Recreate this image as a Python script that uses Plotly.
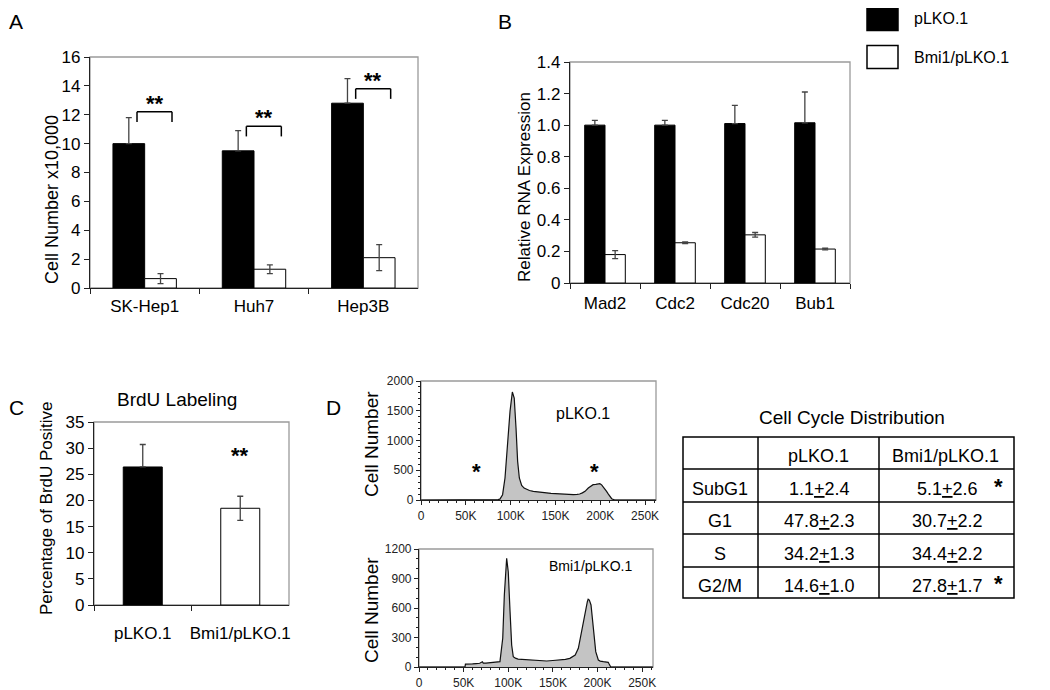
import plotly.graph_objects as go

# The page body adds an 8px margin, so the figure is sized to fill the rest of the window
OFF = 8
W, H = 1050 - OFF, 690 - OFF
def X(px): return (px - OFF) / W
def Y(py): return 1 - (py - OFF) / H

FONT = "Arial, 'Liberation Sans', sans-serif"

# ---------------- Panel A data ----------------
a_cats = ["SK-Hep1", "Huh7", "Hep3B"]
a_plko = [10.0, 9.5, 12.8]
a_plko_err = [1.8, 1.4, 1.7]
a_bmi = [0.65, 1.3, 2.1]
a_bmi_err = [0.35, 0.3, 0.9]
a_bracket_top = [12.2, 11.2, 13.8]
a_bracket_leg = [11.5, 10.5, 13.1]

# ---------------- Panel B data ----------------
b_cats = ["Mad2", "Cdc2", "Cdc20", "Bub1"]
b_plko = [1.0, 1.0, 1.01, 1.015]
b_plko_err = [0.03, 0.03, 0.115, 0.195]
b_bmi = [0.18, 0.255, 0.305, 0.215]
b_bmi_err = [0.025, 0.005, 0.015, 0.005]
b_ticks = [0, 0.2, 0.4, 0.6, 0.8, 1.0, 1.2, 1.4]
b_ticktext = ["0", "0.2", "0.4", "0.6", "0.8", "1.0", "1.2", "1.4"]

# ---------------- Panel C data ----------------
c_cats = ["pLKO.1", "Bmi1/pLKO.1"]
c_vals = [26.4, 18.5]
c_err_plus = [4.3, 2.3]
c_err_minus = [0.0, 2.3]
c_sig_y = 28.6

# ---------------- Panel D histograms (x in thousands) ----------------
d_top_x = [0, 70, 80, 86, 88, 91, 93.7, 96.3, 99.3, 101.9, 104, 106, 107.8, 109.7, 112.3,
           115, 117.9, 121, 125.3, 130, 135, 140, 145, 150, 155, 160, 165, 170, 174, 177,
           180, 183, 186.6, 190, 192, 195, 197.8, 199.5, 201.5, 203, 205, 207, 209, 211, 212.7, 216, 262]
d_top_y = [0, 0, 4, 8, 14, 89, 370, 929, 1490, 1815, 1714, 1210, 650, 370, 246,
           200, 174, 160, 146, 135, 128, 118, 112, 108, 101, 97, 92, 90, 95, 101,
           120, 146, 202, 240, 258, 262, 269, 275, 255, 230, 190, 146, 100, 62, 22, 0, 0]
d_bot_x = [0, 51.5, 52, 56, 60, 64, 68, 71, 72, 75, 80, 85, 88, 90.7, 93.8, 95.6, 98.2, 100,
           102, 103.8, 105.6, 108, 111, 117, 124, 130, 137, 143, 150, 158, 164, 169, 175, 178.5,
           182, 186, 188.6, 189.5, 190.8, 192.7, 195.3, 198, 200.9, 203, 206.5, 209, 212, 213, 214.8, 262]
d_bot_y = [0, 0, 30, 28, 32, 35, 38, 54, 40, 40, 45, 45, 48, 54, 292, 732, 1105, 969,
           563, 224, 105, 90, 81, 78, 71, 75, 68, 61, 66, 71, 78, 88, 122, 190,
           359, 563, 664, 690, 681, 631, 393, 156, 71, 60, 54, 50, 48, 30, 0, 0]
d_xticks = [0, 50, 100, 150, 200, 250]
d_xticktext = ["0", "50K", "100K", "150K", "200K", "250K"]

# ---------------- Table data ----------------
t_header = ["", "pLKO.1", "Bmi1/pLKO.1"]
t_rows = ["SubG1", "G1", "S", "G2/M"]
t_plko = ["1.1<u>+</u>2.4", "47.8<u>+</u>2.3", "34.2<u>+</u>1.3", "14.6<u>+</u>1.0"]
t_bmi = ["5.1<u>+</u>2.6", "30.7<u>+</u>2.2", "34.4<u>+</u>2.2", "27.8<u>+</u>1.7"]
t_sig = ["*", "", "", "*"]

fig = go.Figure()

ERRC = "#444"
# Panel A bars
fig.add_trace(go.Bar(x=a_cats, y=a_plko, width=0.29, offset=-0.29,
                     marker=dict(color="black", line=dict(color="black", width=1)),
                     error_y=dict(type="data", symmetric=False, array=a_plko_err,
                                  arrayminus=[0] * len(a_plko), color=ERRC, thickness=1.3, width=3),
                     xaxis="x", yaxis="y", showlegend=False))
fig.add_trace(go.Bar(x=a_cats, y=a_bmi, width=0.29, offset=0.0,
                     marker=dict(color="white", line=dict(color="black", width=1)),
                     error_y=dict(type="data", array=a_bmi_err, color=ERRC, thickness=1.3, width=3),
                     xaxis="x", yaxis="y", showlegend=False))
# Panel B bars
fig.add_trace(go.Bar(x=b_cats, y=b_plko, width=0.29, offset=-0.29,
                     marker=dict(color="black", line=dict(color="black", width=1)),
                     error_y=dict(type="data", symmetric=False, array=b_plko_err,
                                  arrayminus=[0] * len(b_plko), color=ERRC, thickness=1.3, width=3),
                     xaxis="x2", yaxis="y2", showlegend=False))
fig.add_trace(go.Bar(x=b_cats, y=b_bmi, width=0.29, offset=0.0,
                     marker=dict(color="white", line=dict(color="black", width=1)),
                     error_y=dict(type="data", array=b_bmi_err, color=ERRC, thickness=1.3, width=3),
                     xaxis="x2", yaxis="y2", showlegend=False))
# Panel C bars
fig.add_trace(go.Bar(x=c_cats, y=c_vals, width=0.4,
                     marker=dict(color=["black", "white"], line=dict(color="black", width=1)),
                     error_y=dict(type="data", symmetric=False, array=c_err_plus,
                                  arrayminus=c_err_minus, color=ERRC, thickness=1.3, width=3),
                     xaxis="x3", yaxis="y3", showlegend=False))
# Panel D histograms
fig.add_trace(go.Scatter(x=d_top_x, y=d_top_y, mode="lines", fill="tozeroy",
                         fillcolor="#c4c4c4", line=dict(color="#111", width=1.2),
                         xaxis="x4", yaxis="y4", showlegend=False))
fig.add_trace(go.Scatter(x=d_bot_x, y=d_bot_y, mode="lines", fill="tozeroy",
                         fillcolor="#c4c4c4", line=dict(color="#111", width=1.2),
                         xaxis="x5", yaxis="y5", showlegend=False))

AXC = "#222"
def bar_x(domain, anchor, standoff):
    return dict(domain=domain, anchor=anchor, type="category", tickson="boundaries", ticks="outside",
                ticklen=5, tickcolor=AXC, showline=True, linecolor=AXC, linewidth=1.2,
                tickfont=dict(size=17, color="black"), showgrid=False, zeroline=False,
                ticklabelstandoff=standoff, automargin=False, tickangle=0)
def bar_y(domain, anchor, rng, **kw):
    d = dict(domain=domain, anchor=anchor, range=rng, ticks="outside", ticklen=5, tickcolor=AXC,
             showline=True, linecolor=AXC, linewidth=1.2, tickfont=dict(size=17, color="black"),
             showgrid=False, zeroline=False, automargin=False)
    d.update(kw)
    return d
def hist_x(domain, anchor):
    return dict(domain=domain, anchor=anchor, range=[0, 262.144], tickvals=d_xticks,
                ticktext=d_xticktext, ticks="outside", ticklen=4, tickcolor=AXC, showline=True,
                linecolor=AXC, linewidth=1.2, tickfont=dict(size=12, color="#222"), showgrid=False,
                zeroline=False, automargin=False, tickangle=0,
                minor=dict(ticks="outside", ticklen=2, dtick=10, tickcolor=AXC))
def hist_y(domain, anchor, rng, dt, mdt):
    return dict(domain=domain, anchor=anchor, range=rng, dtick=dt, ticks="outside", ticklen=4,
                tickcolor=AXC, showline=True, linecolor=AXC, linewidth=1.2,
                tickfont=dict(size=12, color="#222"), showgrid=False, zeroline=False,
                automargin=False, minor=dict(ticks="outside", ticklen=2, dtick=mdt, tickcolor=AXC))

fig.update_layout(
    width=W, height=H, margin=dict(l=0, r=0, t=0, b=0, autoexpand=False),
    paper_bgcolor="white", plot_bgcolor="white",
    font=dict(family=FONT, color="black"),
    xaxis=bar_x([X(90), X(418)], "y", 2),
    yaxis=bar_y([Y(288), Y(57)], "x", [0, 16], dtick=2),
    xaxis2=bar_x([X(570), X(850)], "y2", 4),
    yaxis2=bar_y([Y(283), Y(62)], "x2", [0, 1.4], tickvals=b_ticks, ticktext=b_ticktext),
    xaxis3=bar_x([X(94), X(289)], "y3", 12),
    yaxis3=bar_y([Y(605), Y(422)], "x3", [0, 35], dtick=5),
    xaxis4=hist_x([X(421), X(656)], "y4"),
    yaxis4=hist_y([Y(500), Y(381)], "x4", [0, 2000], 500, 100),
    xaxis5=hist_x([X(419), X(653)], "y5"),
    yaxis5=hist_y([Y(667), Y(549)], "x5", [0, 1200], 300, 100),
)

shapes = []
annos = []
def pa(px, py, text, size, **kw):
    d = dict(x=X(px), y=Y(py), xref="paper", yref="paper", text=text, showarrow=False,
             xanchor="center", yanchor="middle", font=dict(size=size))
    d.update(kw)
    annos.append(d)

# gray plot frames
for xr, yr in [("x", "y"), ("x2", "y2"), ("x3", "y3"), ("x4", "y4"), ("x5", "y5")]:
    shapes.append(dict(type="rect", xref=f"{xr} domain", yref=f"{yr} domain", x0=0, x1=1, y0=0, y1=1,
                       line=dict(color="#9a9a9a", width=1.3), layer="below"))

# significance brackets in A
for i in range(len(a_cats)):
    xl, xr_ = i - 0.07, i + 0.25
    top, leg = a_bracket_top[i], a_bracket_leg[i]
    for (x0, y0, x1, y1) in [(xl, leg, xl, top), (xl, top, xr_, top), (xr_, top, xr_, leg)]:
        shapes.append(dict(type="line", xref="x", yref="y", x0=x0, y0=y0, x1=x1, y1=y1,
                           line=dict(color="black", width=1.5)))
    annos.append(dict(x=(xl + xr_) / 2, y=top, xref="x", yref="y", text="<b>**</b>",
                      showarrow=False, xanchor="center", yanchor="bottom", yshift=-6,
                      font=dict(size=22)))

# C significance
annos.append(dict(x=1, y=c_sig_y, xref="x3", yref="y3", text="<b>**</b>", showarrow=False,
                  xanchor="center", yanchor="middle", font=dict(size=22)))

# Panel labels
for txt, px, py in [("A", 16, 22), ("B", 505, 22), ("C", 16, 407), ("D", 333, 407)]:
    pa(px, py, txt, 21)

# Y-axis titles
for txt, px, py, fs in [("Cell Number x10,000", 52, 200, 18),
                        ("Relative RNA Expression", 524, 187, 17),
                        ("Percentage of BrdU Positive", 46, 508, 17),
                        ("Cell Number", 371, 444, 19),
                        ("Cell Number", 371, 610, 19)]:
    pa(px, py, txt, fs, textangle=-90)

# C title
pa(177, 399, "BrdU Labeling", 19)

# Legend
for i, (name, col) in enumerate([("pLKO.1", "black"), ("Bmi1/pLKO.1", "white")]):
    yc = 19 + i * 38
    shapes.append(dict(type="rect", xref="paper", yref="paper", x0=X(867), x1=X(898),
                       y0=Y(yc + 11.5), y1=Y(yc - 11.5), fillcolor=col,
                       line=dict(color="black", width=1.5)))
    pa(912, yc, name, 16, xanchor="left")

# Histogram labels and asterisks
pa(583, 413, "pLKO.1", 16)
pa(590, 566, "Bmi1/pLKO.1", 14)
for px in [476, 594]:
    pa(px, 472, "<b>*</b>", 22)

# Table
tl, tr = 683, 1014
vlines = [758, 879]
hlines = [437, 469, 502, 534, 567, 598]
shapes.append(dict(type="rect", xref="paper", yref="paper", x0=X(tl), x1=X(tr),
                   y0=Y(hlines[-1]), y1=Y(hlines[0]), line=dict(color="black", width=1.5)))
for vx in vlines:
    shapes.append(dict(type="line", xref="paper", yref="paper", x0=X(vx), x1=X(vx),
                       y0=Y(hlines[-1]), y1=Y(hlines[0]), line=dict(color="black", width=1.5)))
for hy in hlines[1:-1]:
    shapes.append(dict(type="line", xref="paper", yref="paper", x0=X(tl), x1=X(tr),
                       y0=Y(hy), y1=Y(hy), line=dict(color="black", width=1.5)))
pa(852, 417, "Cell Cycle Distribution", 19)
def cell_y(r):
    return (hlines[r] + hlines[r + 1]) / 2 + 3
pa(818, cell_y(0), t_header[1], 18)
pa(945, cell_y(0), t_header[2], 18)
for r in range(len(t_rows)):
    yy = cell_y(r + 1)
    pa(720, yy, t_rows[r], 18)
    pa(819, yy, t_plko[r], 18)
    pa(947, yy, t_bmi[r], 18)
    if t_sig[r]:
        pa(998, yy - 2, "<b>*</b>", 22)

fig.update_layout(shapes=shapes, annotations=annos)
fig.write_html("out.html")
